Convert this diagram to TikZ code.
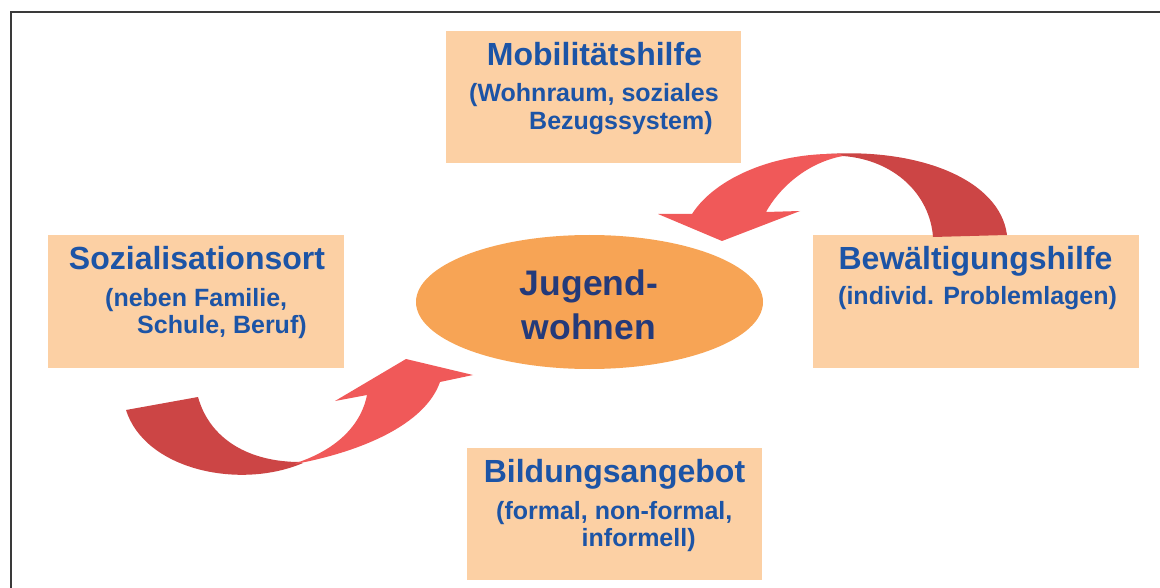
\documentclass[tikz,border=0pt]{standalone}
\usepackage{fontspec}
\setmainfont{Liberation Sans}
\usetikzlibrary{shapes.geometric}
\definecolor{boxfill}{HTML}{FCD0A4}
\definecolor{txtblue}{HTML}{1C54A6}
\definecolor{ellfill}{HTML}{F7A455}
\definecolor{navy}{HTML}{243A7A}
\definecolor{arrdark}{HTML}{CC4545}
\definecolor{arrlight}{HTML}{F05959}
\definecolor{framegray}{HTML}{3A3A3A}
\begin{document}
\begin{tikzpicture}[x=1pt,y=-1pt,
  peach/.style={fill=boxfill, draw=none, inner sep=0, anchor=north west},
  ttl/.style={text=txtblue, font=\bfseries\fontsize{32}{38}\selectfont, inner sep=0, anchor=base},
  subtxt/.style={text=txtblue, font=\bfseries\fontsize{25}{30}\selectfont, inner sep=0, anchor=base west},
  centertxt/.style={text=navy, font=\bfseries\fontsize{35.5}{42}\selectfont, inner sep=0, anchor=base}]
\useasboundingbox (0,0) rectangle (1160,588);
% frame
\draw[framegray, line width=2pt] (11,588) -- (11,12) -- (1160,12);
% boxes
\node[peach, minimum width=295pt, minimum height=132pt] (mob) at (446,31) {};
\node[peach, minimum width=296pt, minimum height=133pt] (soz) at (48,235) {};
\node[peach, minimum width=326pt, minimum height=133pt] (bew) at (813,235) {};
\node[peach, minimum width=295pt, minimum height=132pt] (bil) at (467,448) {};
% ellipse
\node[ellipse, fill=ellfill, draw=none, inner sep=0, minimum width=347pt, minimum height=134pt] (ell) at (589.5,302) {};
\node[centertxt] (jug) at (589,296) {Jugend-};
\node[centertxt] (wohn) at (589,339.3) {wohnen};
% texts
\node[ttl] (mobT) at (594.5,65.5) {Mobilitätshilfe};
\node[subtxt] (mob1) at (469,102) {(Wohnraum, soziales};
\node[subtxt] (mob2) at (529,130) {Bezugssystem)};
\node[ttl] (sozT) at (197,270) {Sozialisationsort};
\node[subtxt] (soz1) at (105,306) {(neben Familie,};
\node[subtxt] (soz2) at (137,333) {Schule, Beruf)};
\node[ttl] (bewT) at (975.5,269.5) {Bewältigungshilfe};
\node[subtxt] (bew1) at (838,305) {(individ. Problemlagen)};
\node[ttl] (bilT) at (614.5,482.5) {Bildungsangebot};
\node[subtxt] (bil1) at (496,519) {(formal, non-formal,};
\node[subtxt] (bil2) at (581.5,546) {informell)};
% upper right curved arrow
\fill[arrdark] (827,154) .. controls (920,148) and (1000,180) .. (1007,235) -- (933,237) .. controls (930,195) and (895,160) .. (843,156) -- cycle;
\fill[arrlight] (840,154) .. controls (775,152) and (715,178) .. (692,214) -- (658,214) -- (722,241) -- (800,211) -- (766,212) .. controls (778,190) and (805,163) .. (843,156) -- cycle;
% lower left curved arrow
\fill[arrdark] (126,410) -- (198,397) .. controls (210,440) and (250,462) .. (300,462) -- (303,463) .. controls (240,490) and (145,470) .. (126,410) -- cycle;
\fill[arrlight] (295,464) .. controls (360,452) and (425,425) .. (440,382) -- (473,375) -- (406,359) -- (335,401) -- (367,395) .. controls (360,430) and (330,452) .. (296,463) -- cycle;
\end{tikzpicture}
\end{document}
